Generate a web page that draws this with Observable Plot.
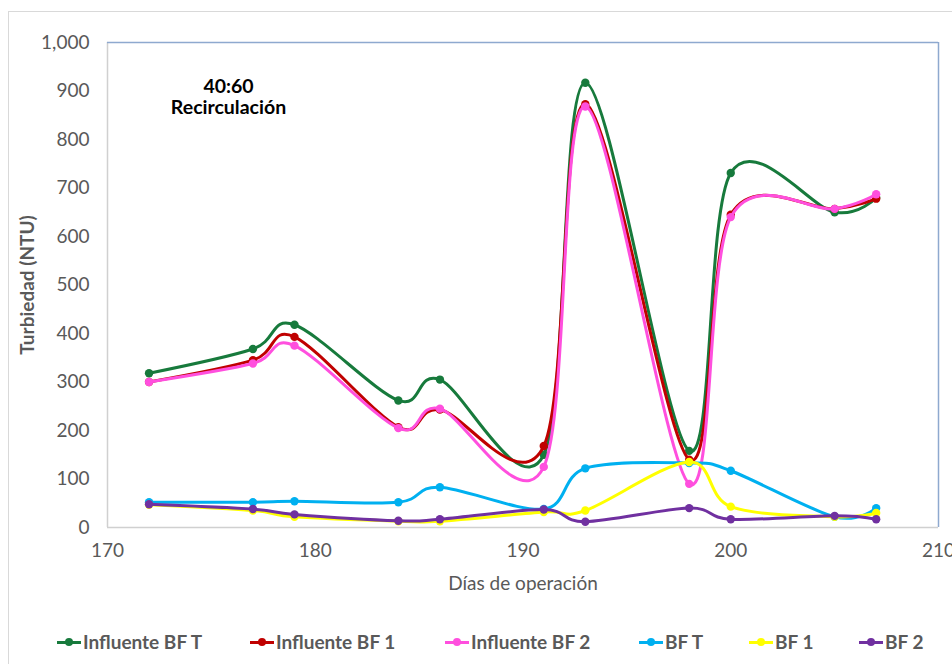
<!DOCTYPE html>
<html>
<head>
<meta charset="utf-8">
<script src="https://cdn.jsdelivr.net/npm/d3@7"></script>
<script src="https://cdn.jsdelivr.net/npm/@observablehq/plot@0.6"></script>
<style>
  body { margin: 0; background: #fff; font-family: Lato, "Open Sans", sans-serif; }
  #wrap { position: relative; width: 952px; height: 664px; overflow: hidden; }
  #border { position: absolute; left: 8px; top: 11px; width: 1000px; height: 700px; border: 1px solid #d9d9d9; }
  #chart { position: absolute; left: 0; top: 0; }
  .leg { position: absolute; top: 630px; display: flex; align-items: center; font-weight: bold; font-size: 19px; color: #595959; white-space: nowrap; }
  .mk { position: relative; width: 24px; height: 20px; margin-right: 2px; }
  .mk .ln { position: absolute; left: 0; top: 9px; width: 24px; height: 3px; }
  .mk .dt { position: absolute; left: 8px; top: 6.5px; width: 8px; height: 8px; border-radius: 50%; }
</style>
</head>
<body>
<div id="wrap">
  <div id="border"></div>
  <div id="chart"></div>
  <div id="legend"></div>
</div>
<script>
const days   = [172, 177, 179, 184, 186, 191, 193, 198, 200, 205, 207];
const infBFT = [318, 368, 418, 262, 305, 150, 917, 158, 731, 650, 680];
const infBF1 = [300, 345, 393, 207, 243, 168, 873, 140, 645, 657, 678];
const infBF2 = [300, 338, 375, 205, 245, 125, 868,  90, 640, 657, 687];
const bfT    = [ 52,  52,  54,  52,  83,  38, 122, 133, 117,  22,  40];
const bf1    = [ 47,  35,  22,  13,  13,  32,  35, 135,  43,  22,  30];
const bf2    = [ 48,  38,  27,  14,  17,  37,  12,  40,  17,  24,  17];

const seriesNames  = ["Influente BF T", "Influente BF 1", "Influente BF 2", "BF T", "BF 1", "BF 2"];
const seriesValues = [infBFT, infBF1, infBF2, bfT, bf1, bf2];
const seriesColors = ["#177a3c", "#c00000", "#ff4fde", "#00b0f0", "#ffff00", "#7030a0"];
const xTicks = [170, 180, 190, 200, 210];
const yTicks = [0, 100, 200, 300, 400, 500, 600, 700, 800, 900, 1000];
const annotation = ["40:60\nRecirculación"];
const yLabel = ["Turbiedad (NTU)"];
const legendLeft = [57, 250, 445, 639, 749, 859];

const rows = seriesNames.map((name, i) => days.map((d, j) => ({series: name, day: d, value: seriesValues[i][j]})));

const marks = [
  Plot.ruleX([170], {stroke: "#d0d0d0", strokeWidth: 1.5}),
  Plot.ruleY([1000], {stroke: "#8ea9cf", strokeWidth: 1.5}),
  Plot.ruleX([210], {stroke: "#8ea9cf", strokeWidth: 1.5}),
  Plot.ruleY([0], {stroke: "#d0d0d0", strokeWidth: 1.5}),
  Plot.axisX({ticks: xTicks, tickSize: 0, tickPadding: 16, fontSize: 19, fill: "#595959",
    label: "Días de operación", labelAnchor: "center", labelArrow: "none", labelOffset: 62}),
  Plot.axisY({ticks: yTicks, tickSize: 0, tickPadding: 18, fontSize: 19, fill: "#595959",
    tickFormat: d3.format(","), label: null}),
  Plot.text(yLabel, {frameAnchor: "left", dx: -80, rotate: -90, fontSize: 19, fontWeight: "bold",
    fill: "#595959", textAnchor: "middle"}),
  Plot.text(annotation, {frameAnchor: "top-left", dx: 121, dy: 35, lineAnchor: "top", lineHeight: 1.1,
    fontSize: 19.5, fontWeight: "bold", fill: "#000", textAnchor: "middle"})
];
rows.forEach((data, i) => {
  marks.push(Plot.line(data, {x: "day", y: "value", stroke: seriesColors[i], strokeWidth: 3, curve: "cardinal"}));
  marks.push(Plot.dot(data, {x: "day", y: "value", fill: seriesColors[i], r: 4.2}));
});

const chart = Plot.plot({
  width: 952,
  height: 600,
  marginLeft: 107,
  marginRight: 14,
  marginTop: 42,
  marginBottom: 73,
  style: {fontFamily: "Lato, 'Open Sans', sans-serif", background: "transparent", overflow: "visible"},
  x: {domain: [170, 210]},
  y: {domain: [0, 1000]},
  marks
});
document.getElementById("chart").appendChild(chart);

const legend = document.getElementById("legend");
seriesNames.forEach((name, i) => {
  const item = document.createElement("div");
  item.className = "leg";
  item.style.left = legendLeft[i] + "px";
  item.innerHTML = `<div class="mk"><div class="ln" style="background:${seriesColors[i]}"></div><div class="dt" style="background:${seriesColors[i]}"></div></div><span>${name}</span>`;
  legend.appendChild(item);
});
</script>
</body>
</html>
